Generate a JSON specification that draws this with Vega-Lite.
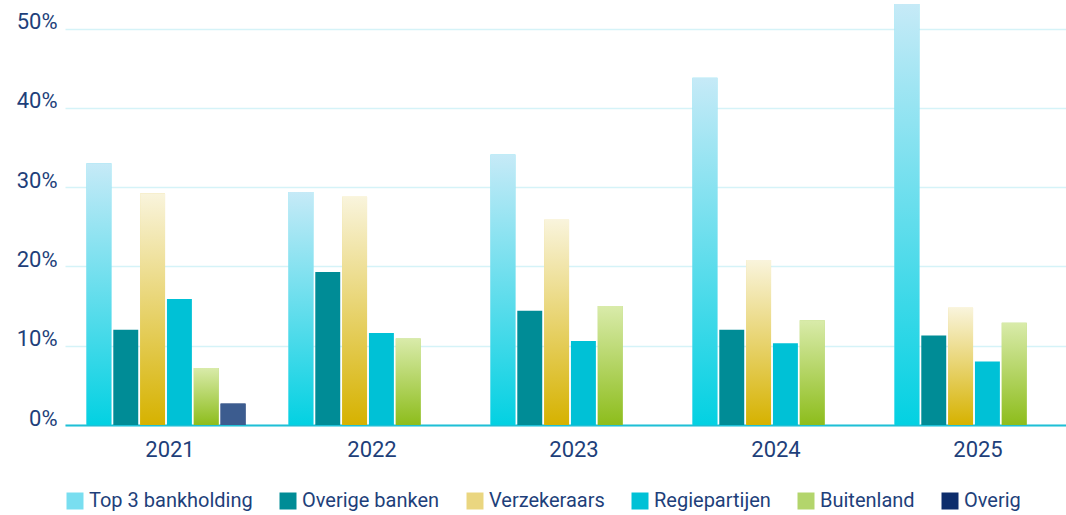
{
  "$schema": "https://vega.github.io/schema/vega-lite/v6.json",
  "width": 1001,
  "height": 425,
  "autosize": {"type": "none"},
  "padding": {"left": 65, "top": 0, "right": 0, "bottom": 90},
  "background": "white",
  "config": {"view": {"stroke": null}, "font": "Roboto"},
  "data": {
    "values": [
      {"year": "2021", "series": "Top 3 bankholding", "value": 33.0},
      {"year": "2021", "series": "Overige banken", "value": 12.0},
      {"year": "2021", "series": "Verzekeraars", "value": 29.2},
      {"year": "2021", "series": "Regiepartijen", "value": 15.9},
      {"year": "2021", "series": "Buitenland", "value": 7.2},
      {"year": "2021", "series": "Overig", "value": 2.7},
      {"year": "2022", "series": "Top 3 bankholding", "value": 29.4},
      {"year": "2022", "series": "Overige banken", "value": 19.3},
      {"year": "2022", "series": "Verzekeraars", "value": 28.8},
      {"year": "2022", "series": "Regiepartijen", "value": 11.6},
      {"year": "2022", "series": "Buitenland", "value": 10.9},
      {"year": "2023", "series": "Top 3 bankholding", "value": 34.1},
      {"year": "2023", "series": "Overige banken", "value": 14.4},
      {"year": "2023", "series": "Verzekeraars", "value": 25.9},
      {"year": "2023", "series": "Regiepartijen", "value": 10.6},
      {"year": "2023", "series": "Buitenland", "value": 15.0},
      {"year": "2024", "series": "Top 3 bankholding", "value": 43.8},
      {"year": "2024", "series": "Overige banken", "value": 12.0},
      {"year": "2024", "series": "Verzekeraars", "value": 20.8},
      {"year": "2024", "series": "Regiepartijen", "value": 10.3},
      {"year": "2024", "series": "Buitenland", "value": 13.2},
      {"year": "2025", "series": "Top 3 bankholding", "value": 53.1},
      {"year": "2025", "series": "Overige banken", "value": 11.3},
      {"year": "2025", "series": "Verzekeraars", "value": 14.8},
      {"year": "2025", "series": "Regiepartijen", "value": 8.0},
      {"year": "2025", "series": "Buitenland", "value": 12.9}
    ]
  },
  "encoding": {
    "x": {
      "field": "year",
      "type": "nominal",
      "scale": {"range": [0, 1010], "paddingInner": 0, "paddingOuter": 0},
      "axis": {
        "title": null,
        "labelAngle": 0,
        "ticks": false,
        "domainColor": "#1fbfd6",
        "domainWidth": 2,
        "labelFontSize": 22,
        "labelColor": "#1e3f7a",
        "labelPadding": 14,
        "labelOffset": 4,
        "grid": false
      }
    },
    "xOffset": {
      "field": "series",
      "type": "nominal",
      "scale": {
        "domain": ["Top 3 bankholding", "Overige banken", "Verzekeraars", "Regiepartijen", "Buitenland", "Overig"],
        "paddingInner": 0.07,
        "paddingOuter": 0.8
      }
    },
    "y": {
      "field": "value",
      "type": "quantitative",
      "scale": {"domain": [0, 53.6], "nice": false},
      "axis": {
        "title": null,
        "values": [0, 10, 20, 30, 40, 50],
        "labelExpr": "datum.value + '%'",
        "ticks": false,
        "domain": false,
        "gridColor": "#d5f3f8",
        "gridWidth": 1.5,
        "labelFontSize": 22,
        "labelColor": "#1e3f7a",
        "labelPadding": 8,
        "labelBaseline": "alphabetic"
      }
    }
  },
  "layer": [
    {
      "mark": {"type": "bar"},
      "encoding": {
        "color": {
          "field": "series",
          "type": "nominal",
          "scale": {
            "domain": ["Top 3 bankholding", "Overige banken", "Verzekeraars", "Regiepartijen", "Buitenland", "Overig"],
            "range": ["#79def0", "#008c96", "#ead680", "#00c1d6", "#b3d56c", "#0d2d6c"]
          },
          "legend": {
            "orient": "none",
            "legendX": 0,
            "legendY": 491,
            "direction": "horizontal",
            "title": null,
            "symbolType": "square",
            "symbolSize": 289,
            "symbolStrokeWidth": 0,
            "labelFontSize": 20,
            "labelLimit": 300,
            "labelColor": "#1e3f7a",
            "labelOffset": 4,
            "columnPadding": 25
          }
        }
      }
    },
    {
      "transform": [{"filter": "datum.series === 'Top 3 bankholding'"}],
      "mark": {
        "type": "bar",
        "color": {
          "gradient": "linear", "x1": 0, "y1": 0, "x2": 0, "y2": 1,
          "stops": [{"offset": 0, "color": "#c6eaf7"}, {"offset": 1, "color": "#03d1e2"}]
        }
      }
    },
    {
      "transform": [{"filter": "datum.series === 'Verzekeraars'"}],
      "mark": {
        "type": "bar",
        "color": {
          "gradient": "linear", "x1": 0, "y1": 0, "x2": 0, "y2": 1,
          "stops": [{"offset": 0, "color": "#f9f4dc"}, {"offset": 1, "color": "#d6b200"}]
        }
      }
    },
    {
      "transform": [{"filter": "datum.series === 'Buitenland'"}],
      "mark": {
        "type": "bar",
        "color": {
          "gradient": "linear", "x1": 0, "y1": 0, "x2": 0, "y2": 1,
          "stops": [{"offset": 0, "color": "#d9ebaa"}, {"offset": 1, "color": "#8dbd1c"}]
        }
      }
    },
    {
      "transform": [{"filter": "datum.series === 'Overig'"}],
      "mark": {"type": "bar", "color": "#3c5c8f"}
    }
  ]
}
